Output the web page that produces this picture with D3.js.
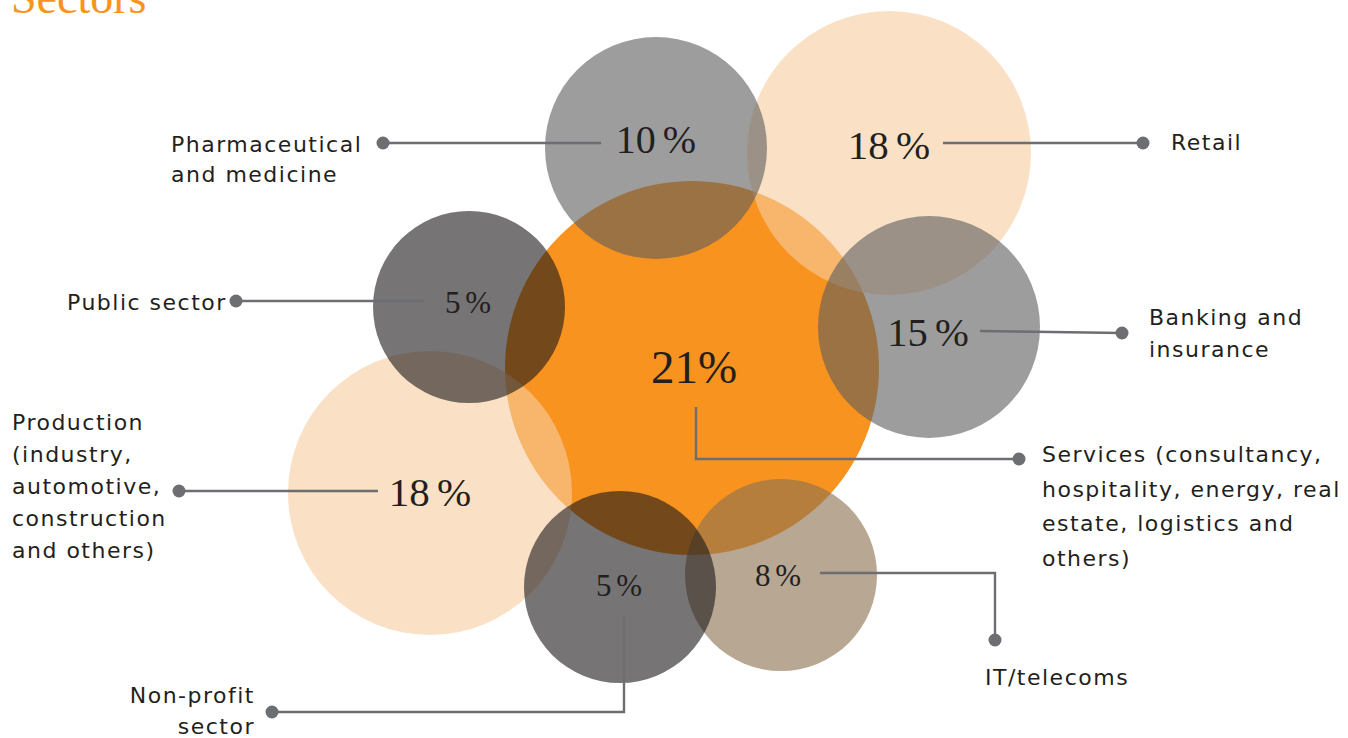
<!DOCTYPE html>
<html>
<head>
<meta charset="utf-8">
<script src="https://cdn.jsdelivr.net/npm/d3@7"></script>
<style>
  body { margin: 0; background: #fff; }
  .lbl { font-family: "DejaVu Sans", sans-serif; font-size: 22px; fill: #231F20; letter-spacing: 1.5px; }
  .pct { font-family: "Liberation Serif", serif; fill: #231F20; text-anchor: middle; word-spacing: -3px; }
</style>
</head>
<body>
<svg id="chart"></svg>
<script>
// sectors and their share of respondents
var sectors = ["Services", "Retail", "Production", "IT/telecoms", "Banking", "Pharmaceutical", "Public sector", "Non-profit"];
var shares = [21, 18, 18, 8, 15, 10, 5, 5];
var shareText = ["21%", "18 %", "18 %", "8 %", "15 %", "10 %", "5 %", "5 %"];
var labelLines = [
  ["Services (consultancy,", "hospitality, energy, real", "estate, logistics and", "others)"],
  ["Retail"],
  ["Production", "(industry,", "automotive,", "construction", "and others)"],
  ["IT/telecoms"],
  ["Banking and", "insurance"],
  ["Pharmaceutical", "and medicine"],
  ["Public sector"],
  ["Non-profit", "sector"]
];

// layout: bubble centres, number baselines, leader lines and label anchors (drawing order = array order)
var layout = [
  {cx: 692, cy: 368, fill: "#F7931E", op: 1,    tx: 694, ty: 383, lead: [[696, 407], [696, 459], [1019, 459]], lx: 1042, ly: 462, lh: 34.5, anchor: "start"},
  {cx: 889, cy: 153, fill: "#F7CD9E", op: 0.6,  tx: 889, ty: 159, lead: [[943, 143], [1143, 143]],             lx: 1171, ly: 150, lh: 0,    anchor: "start"},
  {cx: 430, cy: 493, fill: "#F7CD9E", op: 0.6,  tx: 430, ty: 506, lead: [[378, 491], [179, 491]],              lx: 12,   ly: 430, lh: 32,   anchor: "start"},
  {cx: 781, cy: 575, fill: "#8C7151", op: 0.62, tx: 778, ty: 586, lead: [[820, 573], [995, 573], [995, 640]], lx: 985,  ly: 685, lh: 0,    anchor: "start"},
  {cx: 929, cy: 327, fill: "#5B5B5D", op: 0.6,  tx: 928, ty: 346, lead: [[980, 331], [1122, 333]],             lx: 1149, ly: 325, lh: 31.5, anchor: "start"},
  {cx: 656, cy: 148, fill: "#5B5B5D", op: 0.6,  tx: 656, ty: 153, lead: [[601, 143], [383, 143]],              lx: 171,  ly: 152, lh: 29.5, anchor: "start"},
  {cx: 469, cy: 307, fill: "#1B1819", op: 0.6,  tx: 468, ty: 313, lead: [[424, 301], [236, 301]],              lx: 67,   ly: 310, lh: 0,    anchor: "start"},
  {cx: 620, cy: 587, fill: "#1B1819", op: 0.6,  tx: 619, ty: 596, lead: [[624, 617], [624, 712], [272, 712]], lx: 255,  ly: 703, lh: 31,   anchor: "end"}
];

var width = 1348, height = 738;

// bubble size and number size follow the share, in steps
var radius = d3.scaleLinear().domain([5, 8, 10, 15, 18, 21]).range([96, 96, 111, 111, 142, 187]);
var fontSize = d3.scaleLinear().domain([5, 8, 10, 18, 21]).range([31, 31, 40, 41, 47]);

var svg = d3.select("#chart")
    .attr("width", width)
    .attr("height", height);

svg.append("text")
  .attr("x", 11)
  .attr("y", 13)
  .style("font-family", "Liberation Serif, serif")
  .style("font-size", "46px")
  .style("fill", "#F7931E")
  .text("Sectors");

var rows = sectors.map(function(s, i) {
  return {name: s, value: shares[i], txt: shareText[i], lines: labelLines[i], pos: layout[i]};
});

svg.selectAll(".bubble")
  .data(rows)
  .enter()
  .append("circle")
    .attr("class", "bubble")
    .attr("cx", d => d.pos.cx)
    .attr("cy", d => d.pos.cy)
    .attr("r", d => radius(d.value))
    .attr("fill", d => d.pos.fill)
    .attr("fill-opacity", d => d.pos.op);

var line = d3.line();

var leads = svg.selectAll(".lead")
  .data(rows)
  .enter()
  .append("g")
    .attr("class", "lead");

leads.append("path")
  .attr("d", d => line(d.pos.lead))
  .attr("fill", "none")
  .attr("stroke", "#6D6E71")
  .attr("stroke-width", 2.4);

leads.append("circle")
  .attr("cx", d => d.pos.lead[d.pos.lead.length - 1][0])
  .attr("cy", d => d.pos.lead[d.pos.lead.length - 1][1])
  .attr("r", 6.5)
  .attr("fill", "#6D6E71");

svg.selectAll(".pct")
  .data(rows)
  .enter()
  .append("text")
    .attr("class", "pct")
    .attr("x", d => d.pos.tx)
    .attr("y", d => d.pos.ty)
    .style("font-size", d => fontSize(d.value) + "px")
    .text(d => d.txt);

var lbl = svg.selectAll(".lbl")
  .data(rows)
  .enter()
  .append("text")
    .attr("class", "lbl")
    .attr("text-anchor", d => d.pos.anchor)
    .attr("x", d => d.pos.lx)
    .attr("y", d => d.pos.ly);

lbl.selectAll("tspan")
  .data(d => d.lines.map((t, k) => ({t: t, k: k, d: d})))
  .enter()
  .append("tspan")
    .attr("x", o => o.d.pos.lx)
    .attr("y", o => o.d.pos.ly + o.k * o.d.pos.lh)
    .text(o => o.t);
</script>
</body>
</html>
